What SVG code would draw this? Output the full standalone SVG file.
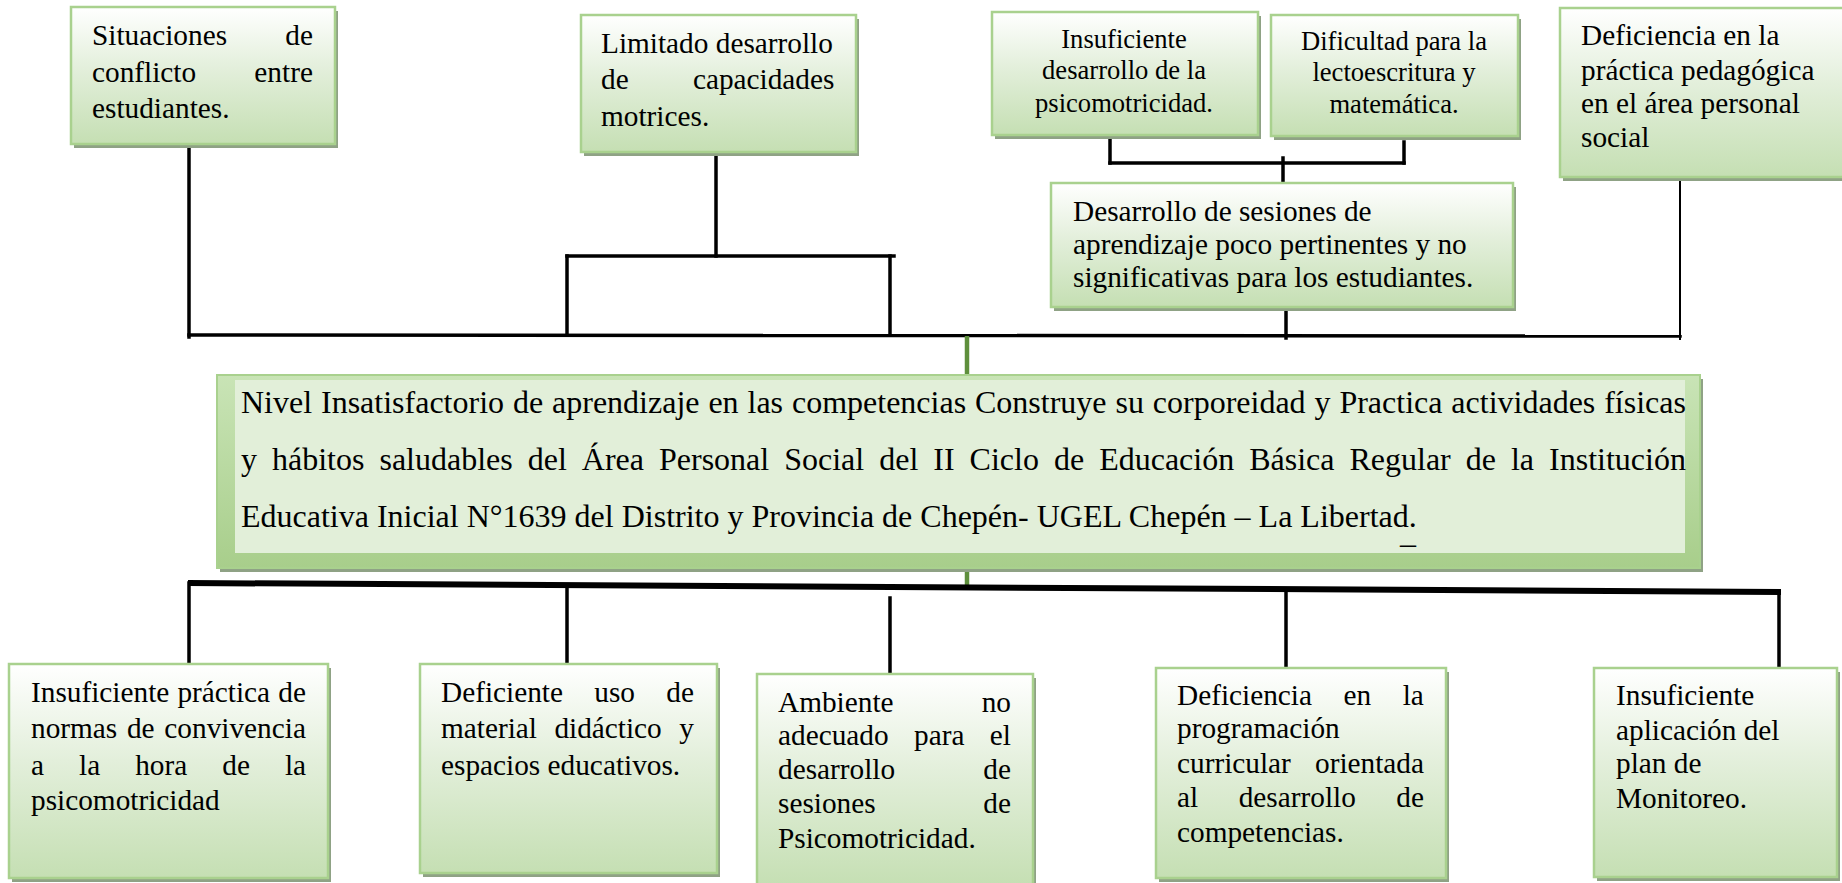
<svg xmlns="http://www.w3.org/2000/svg" width="1842" height="883" viewBox="0 0 1842 883">
<defs>
<linearGradient id="gb" x1="0" y1="0" x2="0" y2="1">
<stop offset="0" stop-color="#ffffff"/>
<stop offset="0.45" stop-color="#e3efdb"/>
<stop offset="1" stop-color="#c5dfb3"/>
</linearGradient>
<linearGradient id="gc" x1="0" y1="0" x2="0" y2="1">
<stop offset="0" stop-color="#c9e4b6"/>
<stop offset="1" stop-color="#a8ce8b"/>
</linearGradient>
<style>
.box{fill:url(#gb);stroke:#a9d18e;stroke-width:2.5}
.sh{fill:#8fa285}
.t{font-family:"Liberation Serif","Times New Roman",serif;font-size:29.3px;fill:#000}
.ts{font-family:"Liberation Serif","Times New Roman",serif;font-size:26.6px;fill:#000;text-anchor:middle}
.tc{font-family:"Liberation Serif","Times New Roman",serif;font-size:32px;fill:#000}
.c{stroke:#000;stroke-width:3.5;fill:none;stroke-linecap:square}
.cg{stroke:#5e8f3c;stroke-width:4.5;fill:none}
</style>
</defs>
<rect width="1842" height="883" fill="#fff"/>

<g id="connectors">
<line class="c" x1="189" y1="144" x2="189" y2="337"/>
<line class="c" x1="189" y1="335" x2="1680" y2="336"/>
<line class="c" x1="716" y1="152" x2="716" y2="256"/>
<line class="c" x1="567" y1="256" x2="894" y2="256"/>
<line class="c" x1="567" y1="256" x2="567" y2="335"/>
<line class="c" x1="890" y1="256" x2="890" y2="335"/>
<line class="c" x1="1110" y1="135" x2="1110" y2="163"/>
<line class="c" x1="1404" y1="142" x2="1404" y2="163"/>
<line class="c" x1="1110" y1="163" x2="1404" y2="163"/>
<line class="c" x1="1283" y1="158" x2="1283" y2="183"/>
<line class="c" x1="1286" y1="307" x2="1286" y2="338"/>
<line stroke="#000" stroke-width="2" x1="1680" y1="177" x2="1680" y2="340"/>
<line class="cg" x1="967" y1="336" x2="967" y2="376"/>
<line class="cg" x1="967" y1="568" x2="967" y2="588"/>
<line stroke="#000" stroke-width="6" x1="188" y1="583" x2="1781" y2="592"/>
<line class="c" x1="189" y1="583" x2="189" y2="664"/>
<line class="c" x1="567" y1="585" x2="567" y2="664"/>
<line class="c" x1="890" y1="598" x2="890" y2="674"/>
<line class="c" x1="1286" y1="590" x2="1286" y2="668"/>
<line class="c" x1="1779" y1="592" x2="1779" y2="668"/>
</g>

<g id="n-situaciones">
<rect class="sh" x="74" y="11" width="264" height="137"/>
<rect class="box" x="71" y="7" width="264" height="137"/>
<text class="t" x="92" y="45" word-spacing="50.9">Situaciones de</text>
<text class="t" x="92" y="82" word-spacing="50.9">conflicto entre</text>
<text class="t" x="92" y="118">estudiantes.</text>
</g>

<g id="n-limitado">
<rect class="sh" x="584" y="19" width="275" height="137"/>
<rect class="box" x="581" y="15" width="275" height="137"/>
<text class="t" x="601" y="53">Limitado desarrollo</text>
<text class="t" x="601" y="89" word-spacing="56.9">de capacidades</text>
<text class="t" x="601" y="126">motrices.</text>
</g>

<g id="n-insuficiente-psico">
<rect class="sh" x="995" y="16" width="266" height="123"/>
<rect class="box" x="992" y="12" width="266" height="123"/>
<text class="ts" x="1124" y="48">Insuficiente</text>
<text class="ts" x="1124" y="79">desarrollo de la</text>
<text class="ts" x="1124" y="112">psicomotricidad.</text>
</g>

<g id="n-dificultad">
<rect class="sh" x="1274" y="19" width="247" height="121"/>
<rect class="box" x="1271" y="15" width="247" height="121"/>
<text class="ts" x="1394" y="50">Dificultad para la</text>
<text class="ts" x="1394" y="81">lectoescritura y</text>
<text class="ts" x="1394" y="113">matemática.</text>
</g>

<g id="n-deficiencia-practica">
<rect class="sh" x="1563" y="12" width="290" height="169"/>
<rect class="box" x="1560" y="8" width="290" height="169"/>
<text class="t" x="1581" y="45">Deficiencia en la</text>
<text class="t" x="1581" y="80">práctica pedagógica</text>
<text class="t" x="1581" y="113">en el área personal</text>
<text class="t" x="1581" y="147">social</text>
</g>

<g id="n-sesiones">
<rect class="sh" x="1054" y="187" width="462" height="124"/>
<rect class="box" x="1051" y="183" width="462" height="124"/>
<text class="t" x="1073" y="221">Desarrollo de sesiones de</text>
<text class="t" x="1073" y="254">aprendizaje poco pertinentes y no</text>
<text class="t" x="1073" y="287">significativas para los estudiantes.</text>
</g>

<g id="n-central">
<rect class="sh" x="220" y="379" width="1483" height="193"/>
<rect x="217" y="375" width="1483" height="193" fill="url(#gc)" stroke="#a9d18e" stroke-width="2"/>
<rect x="235" y="380" width="1450" height="173" fill="#e2efd9"/>
<text class="tc" x="241" y="413" word-spacing="0.9">Nivel Insatisfactorio de aprendizaje en las competencias Construye su corporeidad y Practica actividades físicas</text>
<text class="tc" x="241" y="470" word-spacing="7">y hábitos saludables del Área Personal Social del II Ciclo de Educación Básica Regular de la Institución</text>
<text class="tc" x="241" y="527">Educativa Inicial N°1639 del Distrito y Provincia de Chepén- UGEL Chepén – La Libertad.</text>
<text class="tc" x="1400" y="554">–</text>
</g>

<g id="n-normas">
<rect class="sh" x="12" y="668" width="319" height="214"/>
<rect class="box" x="9" y="664" width="319" height="214"/>
<text class="t" x="31" y="702" word-spacing="0.8">Insuficiente práctica de</text>
<text class="t" x="31" y="738" word-spacing="2.4">normas de convivencia</text>
<text class="t" x="31" y="775" word-spacing="27.7">a la hora de la</text>
<text class="t" x="31" y="810">psicomotricidad</text>
</g>

<g id="n-material">
<rect class="sh" x="423" y="668" width="297" height="209"/>
<rect class="box" x="420" y="664" width="297" height="209"/>
<text class="t" x="441" y="702" word-spacing="24">Deficiente uso de</text>
<text class="t" x="441" y="738" word-spacing="10.1">material didáctico y</text>
<text class="t" x="441" y="775">espacios educativos.</text>
</g>

<g id="n-ambiente">
<rect class="sh" x="760" y="678" width="276" height="212"/>
<rect class="box" x="757" y="674" width="276" height="212"/>
<text class="t" x="778" y="712" word-spacing="80.8">Ambiente no</text>
<text class="t" x="778" y="745" word-spacing="18.1">adecuado para el</text>
<text class="t" x="778" y="779" word-spacing="80.8">desarrollo de</text>
<text class="t" x="778" y="813" word-spacing="100.4">sesiones de</text>
<text class="t" x="778" y="848">Psicomotricidad.</text>
</g>

<g id="n-programacion">
<rect class="sh" x="1159" y="672" width="290" height="210"/>
<rect class="box" x="1156" y="668" width="290" height="210"/>
<text class="t" x="1177" y="705" word-spacing="24.2">Deficiencia en la</text>
<text class="t" x="1177" y="738">programación</text>
<text class="t" x="1177" y="773" word-spacing="16.8">curricular orientada</text>
<text class="t" x="1177" y="807" word-spacing="33.2">al desarrollo de</text>
<text class="t" x="1177" y="842">competencias.</text>
</g>

<g id="n-monitoreo">
<rect class="sh" x="1597" y="672" width="243" height="209"/>
<rect class="box" x="1594" y="668" width="243" height="209"/>
<text class="t" x="1616" y="705">Insuficiente</text>
<text class="t" x="1616" y="740">aplicación del</text>
<text class="t" x="1616" y="773">plan de</text>
<text class="t" x="1616" y="808">Monitoreo.</text>
</g>
</svg>
